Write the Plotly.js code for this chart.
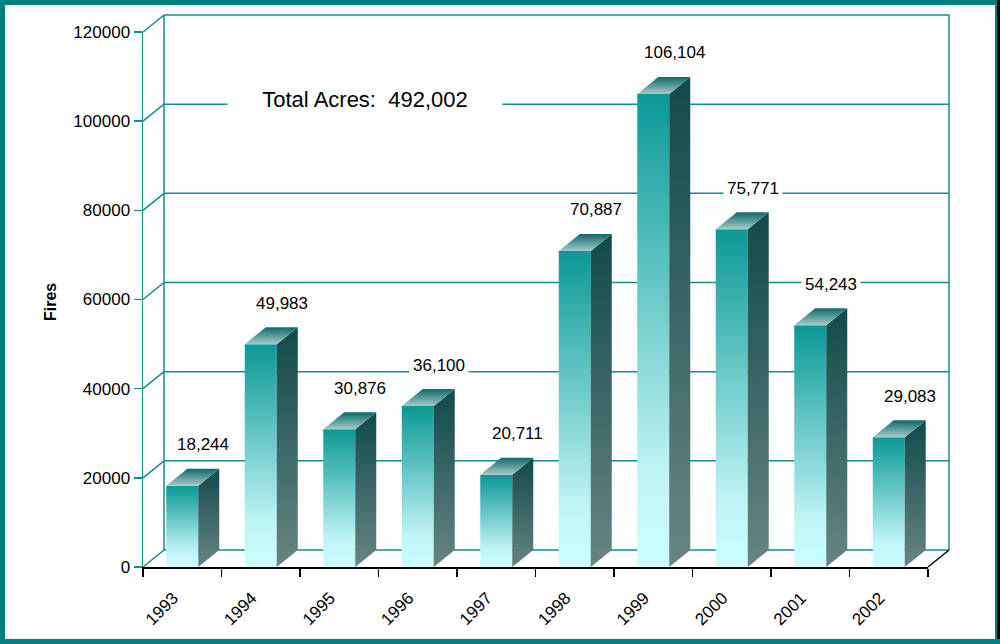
<!DOCTYPE html>
<html><head><meta charset="utf-8">
<script src="https://cdn.plot.ly/plotly-3.0.1.min.js"></script>
<style>html,body{margin:0;padding:0;background:#fff}#chart{width:1000px;height:644px}</style>
</head><body><div id="chart"></div>
<script>
const years = ['1993','1994','1995','1996','1997','1998','1999','2000','2001','2002'];
const acres = [18244, 49983, 30876, 36100, 20711, 70887, 106104, 75771, 54243, 29083];
const yTickVals = [0, 20000, 40000, 60000, 80000, 100000, 120000];
const yTickText = ['0', '20000', '40000', '60000', '80000', '100000', '120000'];
const yTitle = 'Fires';
const totalLabel = 'Total Acres:';

// geometry (pixels)
const W = 1000, H = 644, L = 143, R = 928, T = 32, B = 567, DX = 21, DY = 17;
const YMAX = 120000;
const nCat = years.length;
const catPx = (R - L) / nCat;
const dxD = DX / catPx;              // depth offset in category units
const dyD = DY / (B - T) * YMAX;      // depth offset in value units
const halfW = 16 / catPx;
const bx = DX / (R - L), by = DY / (B - T);
const teal = '#138d8d';
const FONT = 'Liberation Sans, Arial, sans-serif';

const frontScale = [[0, '#ccffff'], [0.2, '#bff4f4'], [1, '#0a9896']];
const sideScale = [[0, '#678583'], [1, '#114a4a']];
const topScale = [[0, '#a6cac7'], [1, '#0b6a68']];

const traces = [];
function face(xs, ys, cs) {
  traces.push({type: 'scatter', mode: 'lines', x: xs, y: ys, fill: 'toself',
    line: {width: 0, color: 'rgba(0,0,0,0)'},
    fillgradient: {type: 'vertical', colorscale: cs},
    hoverinfo: 'skip', showlegend: false});
}
acres.forEach((v, i) => {
  const x0 = i - halfW, x1 = i + halfW;
  face([x0, x1, x1, x0, x0], [0, 0, v, v, 0], frontScale);
  face([x1, x1 + dxD, x1 + dxD, x1, x1], [0, dyD, v + dyD, v, 0], sideScale);
  face([x0, x1, x1 + dxD, x0 + dxD, x0], [v, v, v + dyD, v + dyD, v], topScale);
});

const shapes = [];
function dline(x0, y0, x1, y1, color) {
  shapes.push({type: 'line', xref: 'x domain', yref: 'y domain', x0, y0, x1, y1,
    line: {color: color || teal, width: 1.5}, layer: 'below'});
}
yTickVals.forEach(g => {
  const f = g / YMAX;
  dline(bx, f + by, 1 + bx, f + by);
  dline(0, f, bx, f + by);
});
dline(bx, by, bx, 1 + by);
dline(1 + bx, by, 1 + bx, 1 + by);
dline(1, 0, 1 + bx, by, '#000');

// outer border
shapes.push({type: 'rect', xref: 'paper', yref: 'paper', x0: 2.5 / W, x1: 997.5 / W, y0: 1 - 641.5 / H, y1: 1 - 2.5 / H,
  line: {color: '#037f7f', width: 5}, fillcolor: 'rgba(0,0,0,0)'});
shapes.push({type: 'line', xref: 'paper', yref: 'paper', x0: 998.5 / W, x1: 998.5 / W, y0: 1 - 639 / H, y1: 1,
  line: {color: '#000', width: 3}});

const fmt = n => n.toLocaleString('en-US');
const total = acres.reduce((a, b) => a + b, 0);

const annotations = acres.map((v, i) => ({
  x: i, y: v, xref: 'x', yref: 'y', text: fmt(v), showarrow: false,
  xanchor: 'center', yanchor: 'middle',
  xshift: 21, yshift: 41, bgcolor: '#fff', borderpad: 3,
  font: {size: 17, color: '#000', family: FONT}
}));
annotations.push({xref: 'paper', yref: 'paper', x: 365 / W, y: 1 - 99 / H,
  xanchor: 'center', yanchor: 'middle',
  text: totalLabel + '\u00a0 ' + fmt(total), showarrow: false, bgcolor: '#fff',
  width: 272, height: 30, font: {size: 22, color: '#000', family: FONT}});
annotations.push({xref: 'paper', yref: 'paper', x: 50 / W, y: 1 - 302 / H,
  xanchor: 'center', yanchor: 'middle',
  text: '<b>' + yTitle + '</b>', textangle: -90, showarrow: false,
  font: {size: 16, color: '#000', family: FONT}});

const boundaries = years.map((_, i) => i - 0.5).concat([nCat - 0.5]);

const layout = {
  width: W, height: H, margin: {l: 0, r: 0, t: 0, b: 0},
  paper_bgcolor: '#fff', plot_bgcolor: 'rgba(0,0,0,0)',
  font: {family: FONT, color: '#000'},
  showlegend: false,
  xaxis: {domain: [L / W, R / W], range: [-0.5, nCat - 0.5], automargin: false,
    tickmode: 'array', tickvals: years.map((_, i) => i), ticktext: years, tickangle: -45,
    ticks: 'outside', ticklen: 8, tickcolor: 'rgba(0,0,0,0)',
    ticklabelshift: -9, ticklabelstandoff: 5,
    minor: {tickmode: 'array', tickvals: boundaries, ticks: 'outside', ticklen: 8, tickcolor: '#000', tickwidth: 1.5, showgrid: false},
    showline: true, linecolor: '#000', linewidth: 1.5, showgrid: false, zeroline: false,
    tickfont: {size: 17, color: '#000'}, fixedrange: true},
  yaxis: {domain: [(H - B) / H, (H - T) / H], range: [0, YMAX], automargin: false,
    tickmode: 'array', tickvals: yTickVals, ticktext: yTickText,
    ticks: 'outside', ticklen: 8, tickcolor: teal, tickwidth: 1.5,
    showline: true, linecolor: teal, linewidth: 1.5, showgrid: false, zeroline: false,
    tickfont: {size: 17, color: '#000'}, fixedrange: true},
  shapes, annotations
};

Plotly.newPlot('chart', traces, layout, {staticPlot: true, displayModeBar: false});
</script>
</body></html>
